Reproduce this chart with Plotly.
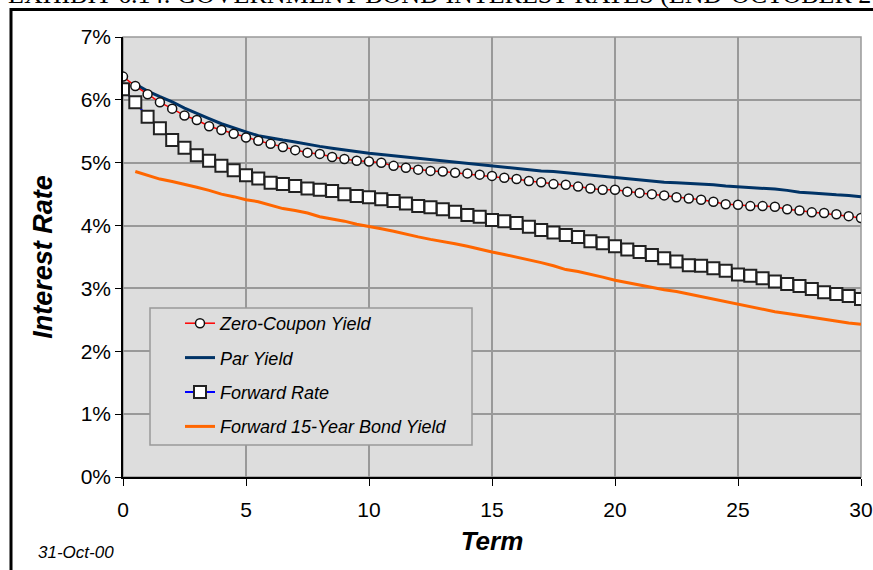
import plotly.graph_objects as go

# ---- data (percent) ----
term_full = [i * 0.5 for i in range(61)]          # 0 .. 30
term_half = [i * 0.5 for i in range(1, 61)]       # 0.5 .. 30

zero_coupon = [6.37, 6.22, 6.09, 5.96, 5.86, 5.75, 5.68, 5.58, 5.52, 5.46,
               5.40, 5.35, 5.30, 5.25, 5.20, 5.16, 5.14, 5.09, 5.06, 5.03,
               5.02, 5.00, 4.95, 4.92, 4.89, 4.87, 4.86, 4.84, 4.83, 4.81,
               4.79, 4.76, 4.74, 4.71, 4.69, 4.66, 4.65, 4.62, 4.59, 4.57,
               4.57, 4.54, 4.52, 4.50, 4.48, 4.45, 4.43, 4.41, 4.38, 4.34,
               4.33, 4.31, 4.31, 4.30, 4.26, 4.24, 4.21, 4.20, 4.18, 4.15,
               4.12]

par_yield = [6.25, 6.14, 6.05, 5.97, 5.87, 5.78, 5.70, 5.62, 5.55, 5.49,
             5.43, 5.39, 5.36, 5.33, 5.29, 5.26, 5.23, 5.20, 5.17, 5.15,
             5.13, 5.11, 5.09, 5.06, 5.04, 5.03, 5.01, 4.98, 4.96, 4.95,
             4.93, 4.91, 4.89, 4.87, 4.86, 4.84, 4.82, 4.80, 4.79, 4.77,
             4.75, 4.72, 4.70, 4.69, 4.68, 4.67, 4.67, 4.65, 4.63, 4.62,
             4.61, 4.60, 4.58, 4.56, 4.53, 4.52, 4.50, 4.49, 4.48, 4.46]

forward_rate = [6.17, 5.96, 5.73, 5.55, 5.36, 5.24, 5.12, 5.03, 4.95, 4.88,
                4.80, 4.75, 4.68, 4.66, 4.63, 4.59, 4.57, 4.55, 4.50, 4.47,
                4.45, 4.42, 4.39, 4.35, 4.31, 4.29, 4.26, 4.22, 4.17, 4.14,
                4.09, 4.07, 4.04, 3.98, 3.93, 3.89, 3.85, 3.82, 3.75, 3.72,
                3.67, 3.62, 3.58, 3.53, 3.48, 3.43, 3.37, 3.36, 3.32, 3.28,
                3.22, 3.20, 3.16, 3.11, 3.07, 3.04, 2.99, 2.94, 2.91, 2.88,
                2.83]

forward_15y = [4.86, 4.80, 4.74, 4.70, 4.66, 4.61, 4.56, 4.50, 4.46, 4.41,
               4.38, 4.33, 4.27, 4.24, 4.20, 4.14, 4.11, 4.07, 4.02, 3.99,
               3.95, 3.91, 3.86, 3.82, 3.78, 3.75, 3.71, 3.67, 3.62, 3.58,
               3.54, 3.50, 3.45, 3.41, 3.36, 3.30, 3.27, 3.23, 3.18, 3.13,
               3.09, 3.06, 3.02, 2.98, 2.95, 2.91, 2.86, 2.83, 2.79, 2.75,
               2.71, 2.67, 2.63, 2.60, 2.57, 2.53, 2.50, 2.47, 2.45, 2.43]

series_names = ["Zero-Coupon Yield", "Par Yield", "Forward Rate",
                "Forward 15-Year Bond Yield"]
x_ticks = [0, 5, 10, 15, 20, 25, 30]
y_ticks = [0, 1, 2, 3, 4, 5, 6, 7]
y_tick_labels = [f"{v}%" for v in y_ticks]

FONT = "Liberation Sans, Arial, sans-serif"
W, H = 873, 570
ML, MR, MT, MB = 123, 12, 37, 93
PW, PH = W - ML - MR, H - MT - MB


def px(xp):
    return (xp - ML) / PW


def py(yp):
    return (H - MB - yp) / PH


fig = go.Figure()

fig.add_trace(go.Scatter(
    x=term_half, y=forward_15y, name=series_names[3], mode="lines",
    line=dict(color="#FF6600", width=3), legendrank=4, legendgroup="d"))
fig.add_trace(go.Scatter(
    x=term_full, y=forward_rate, name=series_names[2], mode="lines+markers",
    line=dict(color="#0000FF", width=2),
    marker=dict(symbol="square", size=12, color="white",
                line=dict(color="#222222", width=2)),
    legendrank=3, legendgroup="c"))
fig.add_trace(go.Scatter(
    x=term_half, y=par_yield, name=series_names[1], mode="lines",
    line=dict(color="#003366", width=3), legendrank=2, legendgroup="b"))
fig.add_trace(go.Scatter(
    x=term_full, y=zero_coupon, name=series_names[0], mode="lines+markers",
    line=dict(color="#FF0000", width=1.5),
    marker=dict(symbol="circle", size=9, color="white",
                line=dict(color="#111111", width=1.5)),
    legendrank=1, legendgroup="a"))

shapes = [
    # outer black frame (top and left edges; the rest is off the page)
    dict(type="line", xref="paper", yref="paper",
         x0=px(10), x1=px(890), y0=py(9.5), y1=py(9.5),
         line=dict(color="black", width=3), layer="above"),
    dict(type="line", xref="paper", yref="paper",
         x0=px(11), x1=px(11), y0=py(8), y1=py(590),
         line=dict(color="black", width=3), layer="above"),
    # plot area gray border
    dict(type="rect", xref="paper", yref="paper", x0=0, x1=1, y0=0, y1=1,
         line=dict(color="#999999", width=1.5), layer="below"),
    # legend box
    dict(type="rect", xref="paper", yref="paper",
         x0=px(150), x1=px(472), y0=py(445), y1=py(308),
         line=dict(color="#999999", width=1.5), fillcolor="#DDDDDD",
         layer="above"),
]

annotations = [
    dict(text="EXHIBIT 6.14: GOVERNMENT BOND INTEREST RATES (END-OCTOBER 2000)",
         xref="paper", yref="paper", x=px(6), y=py(-6), xanchor="left",
         yanchor="middle", showarrow=False,
         font=dict(family="Liberation Serif, Times New Roman, serif",
                   size=26, color="black")),
    dict(text="<i>31-Oct-00</i>", xref="paper", yref="paper",
         x=px(36), y=py(552), xanchor="left", yanchor="middle",
         showarrow=False, font=dict(family=FONT, size=17, color="black")),
]

fig.update_layout(
    width=W, height=H,
    margin=dict(l=ML, r=MR, t=MT, b=MB, autoexpand=False),
    paper_bgcolor="white", plot_bgcolor="#DDDDDD",
    font=dict(family=FONT, color="black"),
    shapes=shapes, annotations=annotations,
    showlegend=True,
    legend=dict(x=px(180), y=py(305), xanchor="left", yanchor="top",
                bgcolor="rgba(0,0,0,0)", borderwidth=0,
                traceorder="grouped", tracegroupgap=8,
                font=dict(family=FONT, size=18, style="italic", color="black")),
    xaxis=dict(range=[0, 30], tickvals=x_ticks, ticks="outside", ticklen=7,
               tickcolor="black", showline=True, linecolor="black",
               linewidth=1.5, showgrid=True, gridcolor="#999999",
               gridwidth=1.5, zeroline=False, automargin=False,
               ticklabelstandoff=6,
               tickfont=dict(size=21, family=FONT),
               title=dict(text="<b><i>Term</i></b>", standoff=12,
                          font=dict(size=26, family=FONT))),
    yaxis=dict(range=[0, 7], tickvals=y_ticks, ticktext=y_tick_labels,
               ticks="outside", ticklen=6, tickcolor="black",
               showline=True, linecolor="black", linewidth=1.5,
               showgrid=True, gridcolor="#999999", gridwidth=1.5,
               zeroline=False, automargin=False,
               tickfont=dict(size=21, family=FONT),
               title=dict(text="<b><i>Interest Rate</i></b>", standoff=20,
                          font=dict(size=27, family=FONT))),
)

fig.write_html("out.html")
